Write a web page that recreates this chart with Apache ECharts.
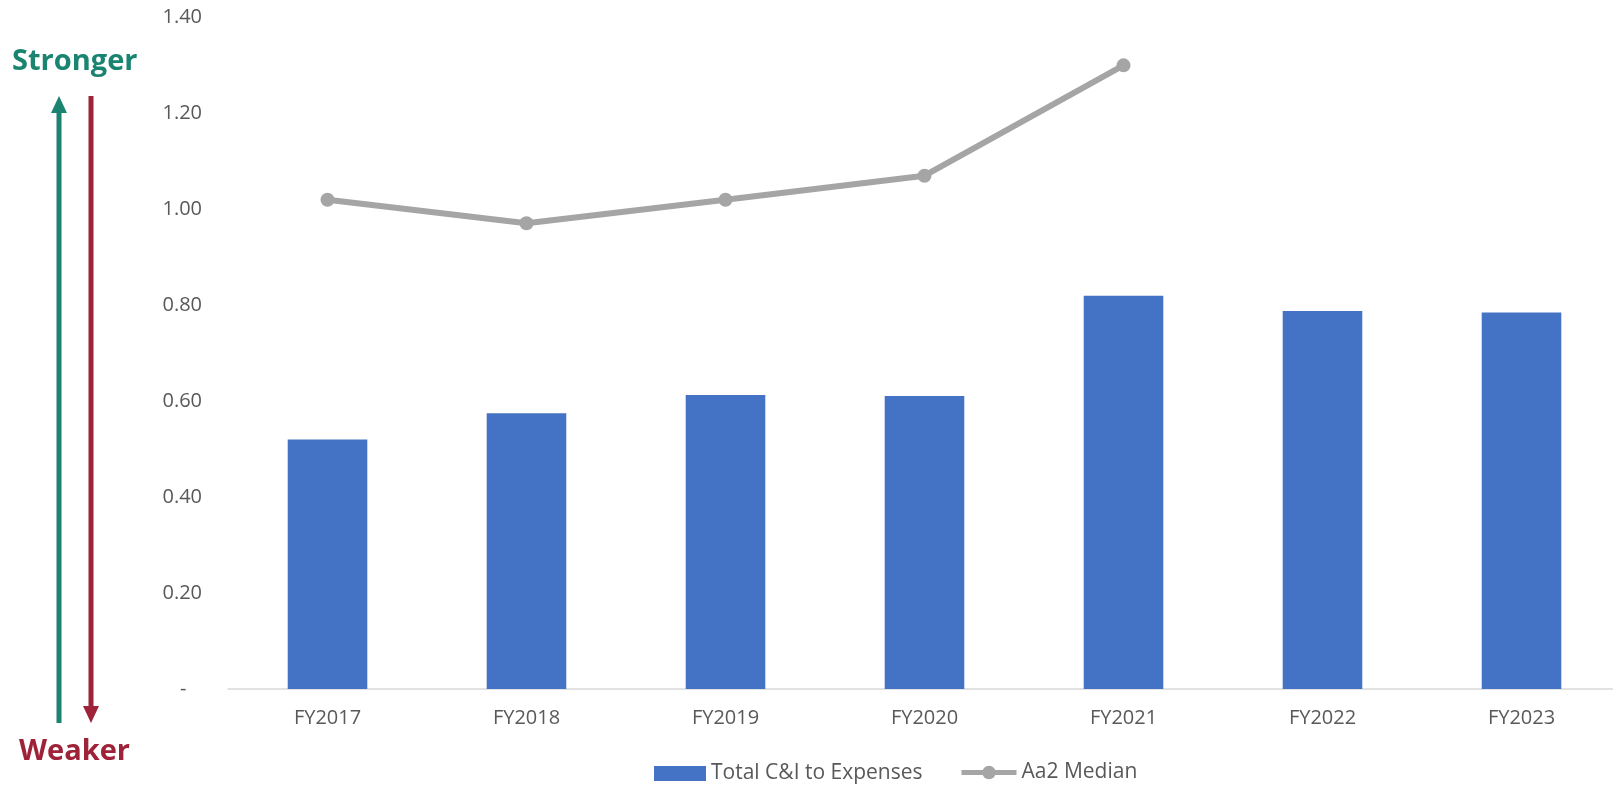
<!DOCTYPE html>
<html>
<head>
<meta charset="utf-8">
<script src="https://cdn.jsdelivr.net/npm/echarts@6/dist/echarts.min.js"></script>
<style>
  html, body { margin: 0; padding: 0; background: #ffffff; overflow: hidden; }
  #chart { width: 1613px; height: 785px; }
</style>
</head>
<body>
<div id="chart"></div>
<script>
// Fiscal years on the category axis
const categories = ['FY2017', 'FY2018', 'FY2019', 'FY2020', 'FY2021', 'FY2022', 'FY2023'];
// Total cash & investments to operating expenses
const totalCiToExpenses = [0.52, 0.575, 0.613, 0.611, 0.82, 0.788, 0.785];
// Aa2 rating-category median (reported through FY2021)
const aa2Median = [1.02, 0.971, 1.02, 1.07, 1.30, null, null];
// Value axis ticks
const yTicks = [0, 0.2, 0.4, 0.6, 0.8, 1.0, 1.2, 1.4];

const seriesNames = ['Total C&I to Expenses', 'Aa2 Median'];
const labelFont = 'Open Sans, "Segoe UI", sans-serif';
const textGrey = '#595959';
const teal = '#1a8470';
const crimson = '#9e2238';
const lineGrey = '#a5a5a5';

const chart = echarts.init(document.getElementById('chart'), null, { renderer: 'canvas' });

const legendText = { color: textGrey, fontFamily: labelFont, fontSize: 21 };

chart.setOption({
  animation: false,
  backgroundColor: '#ffffff',
  grid: {
    left: 228, top: 17.4, width: 1393, height: 671.6,
    containLabel: false, outerBoundsMode: 'none'
  },
  xAxis: {
    type: 'category',
    data: categories,
    axisLine: { lineStyle: { color: '#d9d9d9', width: 1.5 } },
    axisTick: { show: false },
    axisLabel: { color: textGrey, fontFamily: labelFont, fontSize: 20, margin: 19 }
  },
  yAxis: {
    type: 'value',
    min: yTicks[0],
    max: yTicks[yTicks.length - 1],
    interval: 0.2,
    splitLine: { show: false },
    axisLine: { show: false },
    axisTick: { show: false },
    axisLabel: {
      color: textGrey, fontFamily: labelFont, fontSize: 20, margin: 26,
      formatter: v => (Math.abs(v) < 1e-9 ? '-   ' : v.toFixed(2))
    }
  },
  legend: [
    {
      left: 649,
      top: 758,
      itemWidth: 52,
      itemHeight: 15,
      textStyle: legendText,
      data: [{ name: seriesNames[0], icon: 'rect' }]
    },
    {
      left: 954,
      top: 757,
      itemWidth: 55,
      itemHeight: 17,
      lineStyle: { width: 5 },
      textStyle: legendText,
      data: [seriesNames[1]]
    }
  ],
  series: [
    {
      name: seriesNames[0],
      type: 'bar',
      data: totalCiToExpenses,
      barWidth: '40%',
      itemStyle: { color: '#4472c4' }
    },
    {
      name: seriesNames[1],
      type: 'line',
      data: aa2Median,
      symbol: 'circle',
      symbolSize: 14,
      lineStyle: { color: lineGrey, width: 6 },
      itemStyle: { color: lineGrey },
      connectNulls: false
    }
  ],
  graphic: [
    {
      type: 'text', left: 12, top: 47,
      style: { text: 'Stronger', fill: teal, font: 'bold 29px "Open Sans", sans-serif' }
    },
    {
      type: 'text', left: 19, top: 737,
      style: { text: 'Weaker', fill: crimson, font: 'bold 29px "Open Sans", sans-serif' }
    },
    // upward arrow
    { type: 'line', shape: { x1: 59, y1: 723, x2: 59, y2: 110 }, style: { stroke: teal, lineWidth: 5 } },
    { type: 'polygon', shape: { points: [[59, 96], [51, 113], [67, 113]] }, style: { fill: teal } },
    // downward arrow
    { type: 'line', shape: { x1: 91, y1: 96, x2: 91, y2: 709 }, style: { stroke: crimson, lineWidth: 5 } },
    { type: 'polygon', shape: { points: [[91, 723], [83, 706], [99, 706]] }, style: { fill: crimson } }
  ]
});
</script>
</body>
</html>
